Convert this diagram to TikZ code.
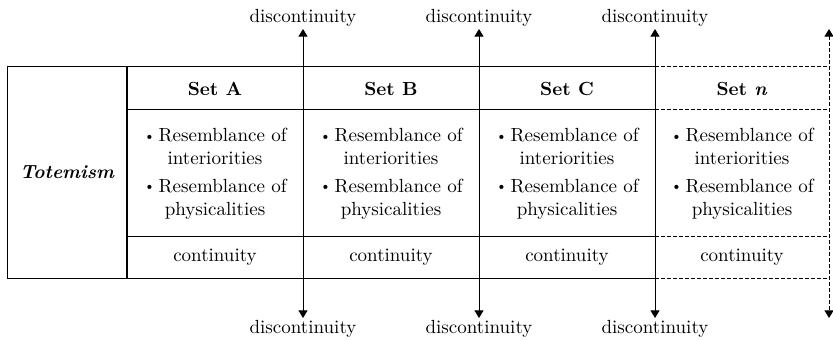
\documentclass[tikz,border=0pt]{standalone}
\usetikzlibrary{arrows.meta}
\newcommand{\dotitem}{\raisebox{0.2ex}{\scriptsize\textbullet}\,}

\begin{document}
\begin{tikzpicture}[x=0.5pt,y=-0.5pt,
        cell/.style={font=\fontsize{9.5}{11.5}\selectfont, align=center, inner sep=0pt},
        disc/.style={font=\fontsize{9.5}{12}\selectfont, inner sep=1pt},
        arr/.style={{Triangle[length=3.8pt,width=4.5pt]}-{Triangle[length=3.8pt,width=4.5pt]}},
        dsh/.style={dash pattern=on 2pt off 1pt},
        line width=0.5pt]
        \useasboundingbox (0,0) rectangle (833,341);
        % table frame
        \draw (7,67) rectangle (127,278);
        \draw (127,67) -- (655,67) (127,110) -- (655,110) (127,237) -- (655,237) (127,278) -- (655,278);
        \draw[dsh] (655,67) -- (829,67) (655,110) -- (829,110) (655,237) -- (829,237) (655,278) -- (829,278);
        \draw[line width=1.1pt] (127,67) -- (127,278);
        \node[cell, font=\fontsize{9.5}{12}\selectfont\bfseries\itshape] (totem) at (67,172) {Totemism};
        % columns
        \foreach \n/\x/\s in {a/215/A, b/391/B, c/567/C, d/742/\textit{n}} {
            \node[cell, font=\fontsize{9.5}{12}\selectfont\bfseries] (set\n) at (\x,89) {Set \s};
            \node[cell] (res\n) at (\x,174) {\dotitem Resemblance of\\interiorities\\[2.3pt]\dotitem Resemblance of\\physicalities};
            \node[cell] (cont\n) at (\x,257) {continuity};
        }
        % discontinuities
        \foreach \n/\x in {b/303, c/479, d/655} {
            \node[disc, anchor=south] (up\n) at (\x,29) {discontinuity};
            \node[disc, anchor=north] (low\n) at (\x,318) {discontinuity};
            \draw[arr] (up\n) -- (low\n);
        }
        \coordinate (upe) at (829,29);
        \coordinate (lowe) at (829,318);
        \draw[arr, dsh] (upe) -- (lowe);
    \end{tikzpicture}
\end{document}
